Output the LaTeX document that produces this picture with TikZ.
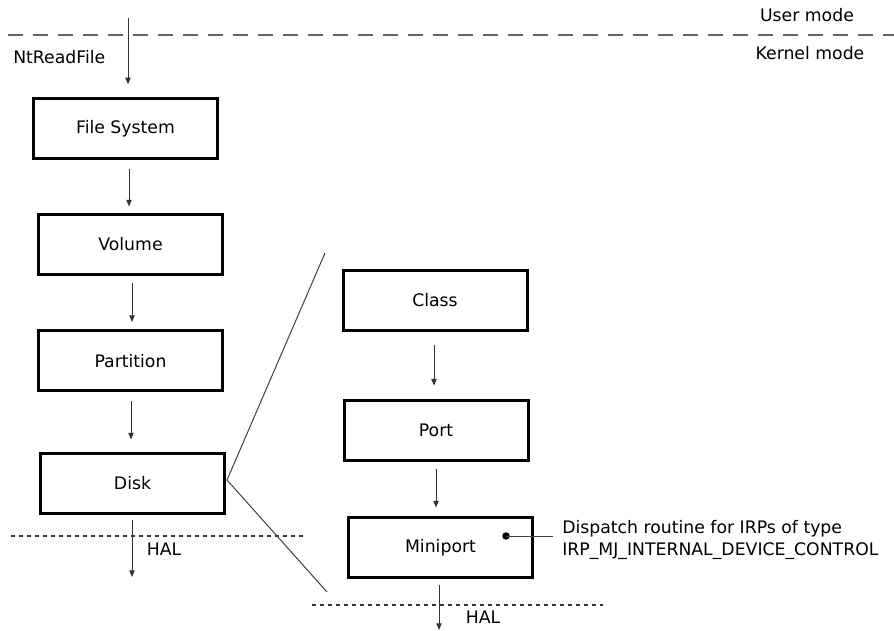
\documentclass[tikz,border=0pt]{standalone}
\usepackage{fontspec}
\setmainfont{DejaVu Sans}
\usetikzlibrary{arrows.meta,calc}
\begin{document}
\begin{tikzpicture}[x=0.75pt,y=-0.75pt,
  font=\fontsize{12.95}{16.5}\selectfont,
  box/.style={draw=black,line width=2.25pt,minimum width=184*0.75pt,minimum height=60*0.75pt,inner sep=0pt,fill=white},
  arr/.style={draw=black!80,line width=0.75pt,-{Triangle[length=5pt,width=4pt]}},
  thin/.style={draw=black!75,line width=0.75pt},
  modeline/.style={draw=black!60,line width=1.1pt,dash pattern=on 11.25pt off 7.5pt},
  halline/.style={draw=black!80,line width=0.9pt,dash pattern=on 3pt off 3pt},
  lbl/.style={inner sep=0pt}
]
\useasboundingbox (0,0) rectangle (894,631);
\fill[white] (0,0) rectangle (894,631);

% mode separator
\coordinate (ml) at (8,35);
\coordinate (mr) at (894,35);
\draw[modeline] (ml) -- (mr);
\node[lbl] (user) at (807,15) {User mode};
\node[lbl] (kernel) at (810,53) {Kernel mode};
\node[lbl,anchor=west] (ntread) at (13,57) {NtReadFile};

% left stack
\node[box] (fs) at (125.5,128.5) {File System};
\node[box] (vol) at (130.5,244.5) {Volume};
\node[box] (part) at (130.5,361) {Partition};
\node[box] (disk) at (132.5,483.5) {Disk};

% right stack
\node[box] (class) at (435,300.5) {Class};
\node[box] (port) at (436,430.5) {Port};
\node[box] (mini) at (440.5,547.5) {Miniport};

% arrows
\coordinate (top) at (128,18);
\draw[arr,shorten >=9.5pt] (top) -- (top |- fs.north);
\draw[arr,shorten <=6.4pt,shorten >=4.9pt] ($(fs.south)+(3.5,0)$) -- ($(vol.north)+(-1.5,0)$);
\draw[arr,shorten <=5.6pt,shorten >=5.6pt] ($(vol.south)+(1.5,0)$) -- ($(part.north)+(1.5,0)$);
\draw[arr,shorten <=6.4pt,shorten >=9.4pt] ($(part.south)+(0.5,0)$) -- ($(disk.north)+(-1.5,0)$);
\coordinate (halL) at (132,577);
\draw[arr,shorten <=3.4pt] (halL |- disk.south) -- (halL);
\draw[arr,shorten <=9.5pt,shorten >=10pt] ($(class.south)+(-1,0)$) -- ($(port.north)+(-2,0)$);
\draw[arr,shorten <=5.6pt,shorten >=6.4pt] ($(port.south)+(0,0)$) -- ($(mini.north)+(-4.5,0)$);
\coordinate (halR) at (439,630);
\draw[arr,shorten <=4.5pt] (halR |- mini.south) -- (halR);

% HAL lines
\coordinate (hl1) at (11,536);
\coordinate (hl2) at (303,536);
\draw[halline] (hl1) -- (hl2);
\node[lbl] (hal1) at (164,549) {HAL};
\coordinate (hr1) at (312,605);
\coordinate (hr2) at (603,605);
\draw[halline] (hr1) -- (hr2);
\node[lbl] (hal2) at (483,617) {HAL};

% zoom lines
\coordinate (dk) at (227,480);
\coordinate (zt) at (325,253);
\coordinate (zb) at (327,592);
\draw[thin] (zt) -- (dk) -- (zb);

% dispatch annotation
\coordinate (dot) at (506,536);
\fill[black] (dot) circle (2.8pt);
\node[lbl,anchor=west,align=left] (disp) at (562,540) {Dispatch routine for IRPs of type\\IRP\_MJ\_INTERNAL\_DEVICE\_CONTROL};
\draw[thin] (dot) -- ($(disp.west |- dot)+(-9,0)$);
\end{tikzpicture}
\end{document}
